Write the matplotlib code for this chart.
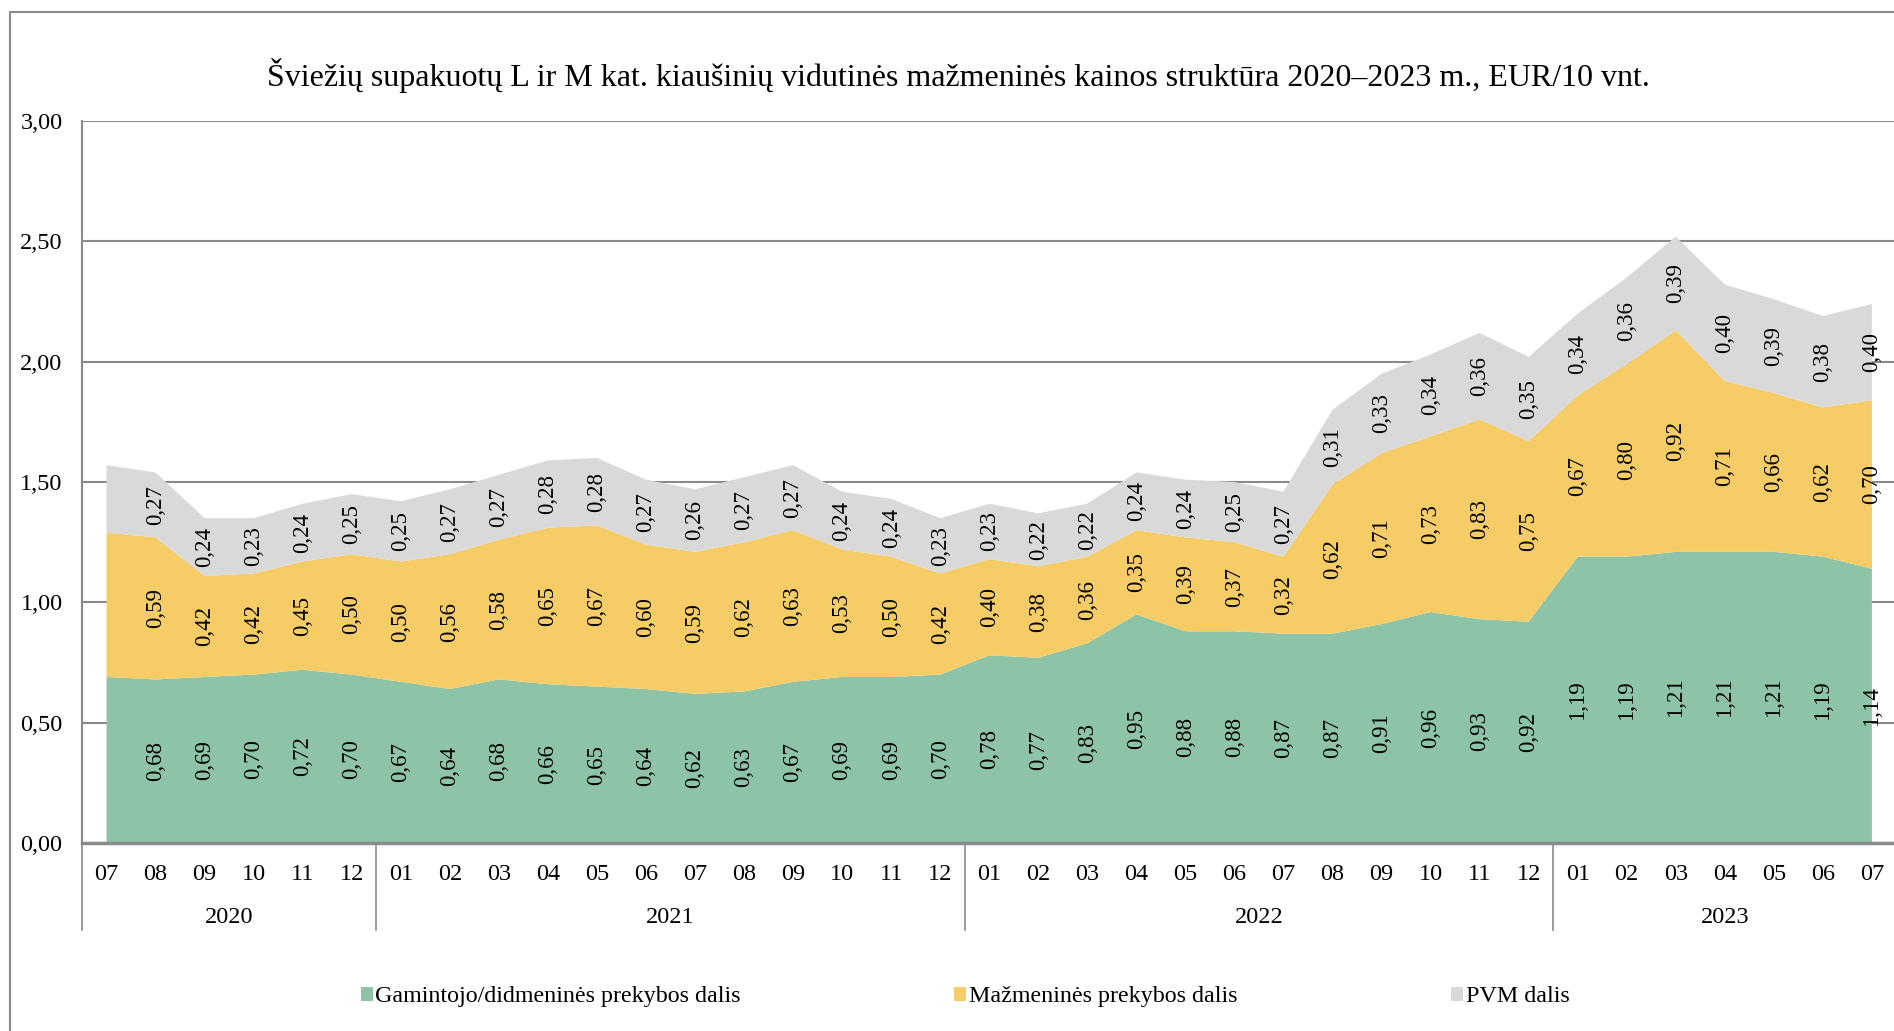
import matplotlib.pyplot as plt
import matplotlib.transforms as mtransforms
from matplotlib.patches import Patch, Rectangle
from matplotlib.ticker import FuncFormatter

plt.rcParams['font.family'] = ['Liberation Serif', 'DejaVu Serif']

title = ('Šviežių supakuotų L ir M kat. kiaušinių vidutinės mažmeninės '
         'kainos struktūra 2020–2023 m., EUR/10 vnt.')

months = ['07', '08', '09', '10', '11', '12',
          '01', '02', '03', '04', '05', '06', '07', '08', '09', '10', '11', '12',
          '01', '02', '03', '04', '05', '06', '07', '08', '09', '10', '11', '12',
          '01', '02', '03', '04', '05', '06', '07']
years = ['2020', '2021', '2022', '2023']
year_lengths = [6, 12, 12, 7]

# EUR/10 vnt., first month (2020-07) has no value labels in the original
producer = [0.69, 0.68, 0.69, 0.70, 0.72, 0.70,
            0.67, 0.64, 0.68, 0.66, 0.65, 0.64, 0.62, 0.63, 0.67, 0.69, 0.69, 0.70,
            0.78, 0.77, 0.83, 0.95, 0.88, 0.88, 0.87, 0.87, 0.91, 0.96, 0.93, 0.92,
            1.19, 1.19, 1.21, 1.21, 1.21, 1.19, 1.14]
retail = [0.60, 0.59, 0.42, 0.42, 0.45, 0.50,
          0.50, 0.56, 0.58, 0.65, 0.67, 0.60, 0.59, 0.62, 0.63, 0.53, 0.50, 0.42,
          0.40, 0.38, 0.36, 0.35, 0.39, 0.37, 0.32, 0.62, 0.71, 0.73, 0.83, 0.75,
          0.67, 0.80, 0.92, 0.71, 0.66, 0.62, 0.70]
vat = [0.28, 0.27, 0.24, 0.23, 0.24, 0.25,
       0.25, 0.27, 0.27, 0.28, 0.28, 0.27, 0.26, 0.27, 0.27, 0.24, 0.24, 0.23,
       0.23, 0.22, 0.22, 0.24, 0.24, 0.25, 0.27, 0.31, 0.33, 0.34, 0.36, 0.35,
       0.34, 0.36, 0.39, 0.40, 0.39, 0.38, 0.40]

series_names = ['Gamintojo/didmeninės prekybos dalis',
                'Mažmeninės prekybos dalis', 'PVM dalis']
colors = ['#8DC3A7', '#F5CC66', '#D9D9D9']
line_color = '#8a8a8a'


def fmt(v):
    return f'{v:.2f}'.replace('.', ',')


fig = plt.figure(figsize=(18.94, 10.31), dpi=100)
ax = fig.add_axes([0.0433, 0.1823, 0.958, 0.7003])

x = list(range(len(months)))
ax.stackplot(x, producer, retail, vat, colors=colors, linewidth=0)

# value labels in the middle of each band
for i in range(1, len(months)):
    base = 0
    for vals in (producer, retail, vat):
        ax.text(i, base + vals[i] / 2, fmt(vals[i]), rotation=90,
                ha='center', va='center', fontsize=16.5)
        base += vals[i]

ax.set_xlim(-0.5, len(months) - 0.5)
ax.set_ylim(0, 3)
ax.set_yticks([0, 0.5, 1, 1.5, 2, 2.5, 3])
ax.yaxis.set_major_formatter(FuncFormatter(lambda v, p: fmt(v)))
ax.set_xticks(x)
ax.set_xticklabels(months)
ax.tick_params(axis='y', length=0, pad=14, labelsize=17.5)
ax.tick_params(axis='x', length=0, pad=15, labelsize=17.5)
ax.grid(axis='y', color=line_color, linewidth=1.5)
ax.set_axisbelow(True)

for s in ['top', 'right']:
    ax.spines[s].set_visible(False)
ax.spines['left'].set_color(line_color)
ax.spines['left'].set_linewidth(1.5)
ax.spines['bottom'].set_color(line_color)
ax.spines['bottom'].set_linewidth(2.5)

# year groups under the month labels
trans = mtransforms.blended_transform_factory(ax.transData, ax.transAxes)
start = -0.5
ax.plot([start, start], [0, -0.1205], transform=trans, color=line_color,
        lw=1.2, clip_on=False)
for year, n in zip(years, year_lengths):
    end = start + n
    ax.plot([end, end], [0, -0.1205], transform=trans, color=line_color,
            lw=1.2, clip_on=False)
    ax.text((start + end) / 2, -0.103, year, transform=trans,
            ha='center', va='center', fontsize=17.5)
    start = end

fig.text(0.506, 0.927, title, ha='center', va='center', fontsize=23)

handles = [Patch(facecolor=c, edgecolor='none') for c in colors]
fig.legend(handles, series_names, loc='center', bbox_to_anchor=(0.5095, 0.033),
           ncol=3, frameon=False, fontsize=17.3, handlelength=0.5,
           handleheight=0.5, handletextpad=0.1, columnspacing=8.9)

# outer chart border
fig.add_artist(Rectangle((0.0053, -0.1), 1.2, 1.0884, transform=fig.transFigure,
                         fill=False, edgecolor=line_color, linewidth=1.5))

fig.savefig('out.png', dpi=100)
